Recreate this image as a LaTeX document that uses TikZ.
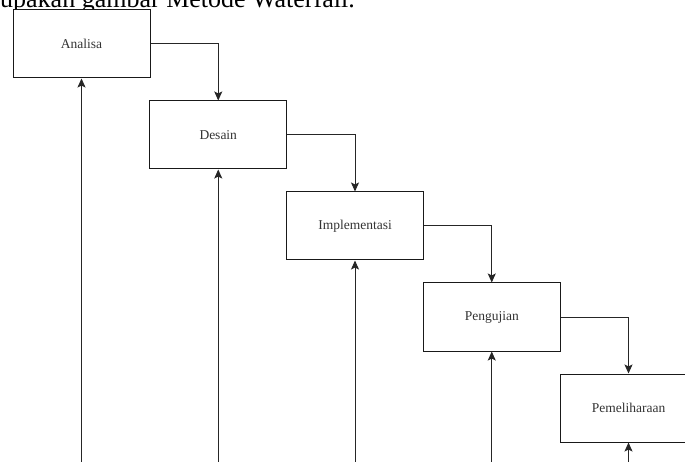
\documentclass[tikz,border=0pt]{standalone}
\usepackage{fontspec}
\setmainfont{Liberation Serif}
\usetikzlibrary{arrows.meta}
\begin{document}
\begin{tikzpicture}[x=1pt,y=-1pt,
  stagebox/.style={draw=black!90, line width=1pt, fill=white, minimum width=137pt, minimum height=68pt, inner sep=0pt,
    font=\fontsize{13.5}{15}\selectfont, text=black!80},
  flow/.style={draw=black!85, line width=1pt, -{Stealth[length=9pt,width=8pt,inset=2pt]}}]
\clip (0,0) rectangle (685,462);
\fill[white] (0,0) rectangle (685,462);
\node[anchor=base west, inner sep=0pt, font=\fontsize{26}{30}\selectfont] (cap) at (0,8) {upakan gambar Metode Waterfall.};
\node[stagebox] (a) at (81.5,44) {Analisa};
\node[stagebox] (d) at (218.25,135) {Desain};
\node[stagebox] (i) at (355,226) {Implementasi};
\node[stagebox] (p) at (491.75,317) {Pengujian};
\node[stagebox] (m) at (628.5,408) {Pemeliharaan};
\coordinate (ba) at (81.5,470);
\coordinate (bd) at (218.25,470);
\coordinate (bi) at (355,470);
\coordinate (bp) at (491.75,470);
\coordinate (bm) at (628.5,470);
\draw[flow] (a.east) -| (d.north);
\draw[flow] (d.east) -| (i.north);
\draw[flow] (i.east) -| (p.north);
\draw[flow] (p.east) -| (m.north);
\draw[flow] (ba) -- (a.south);
\draw[flow] (bd) -- (d.south);
\draw[flow] (bi) -- (i.south);
\draw[flow] (bp) -- (p.south);
\draw[flow] (bm) -- (m.south);
\end{tikzpicture}
\end{document}
